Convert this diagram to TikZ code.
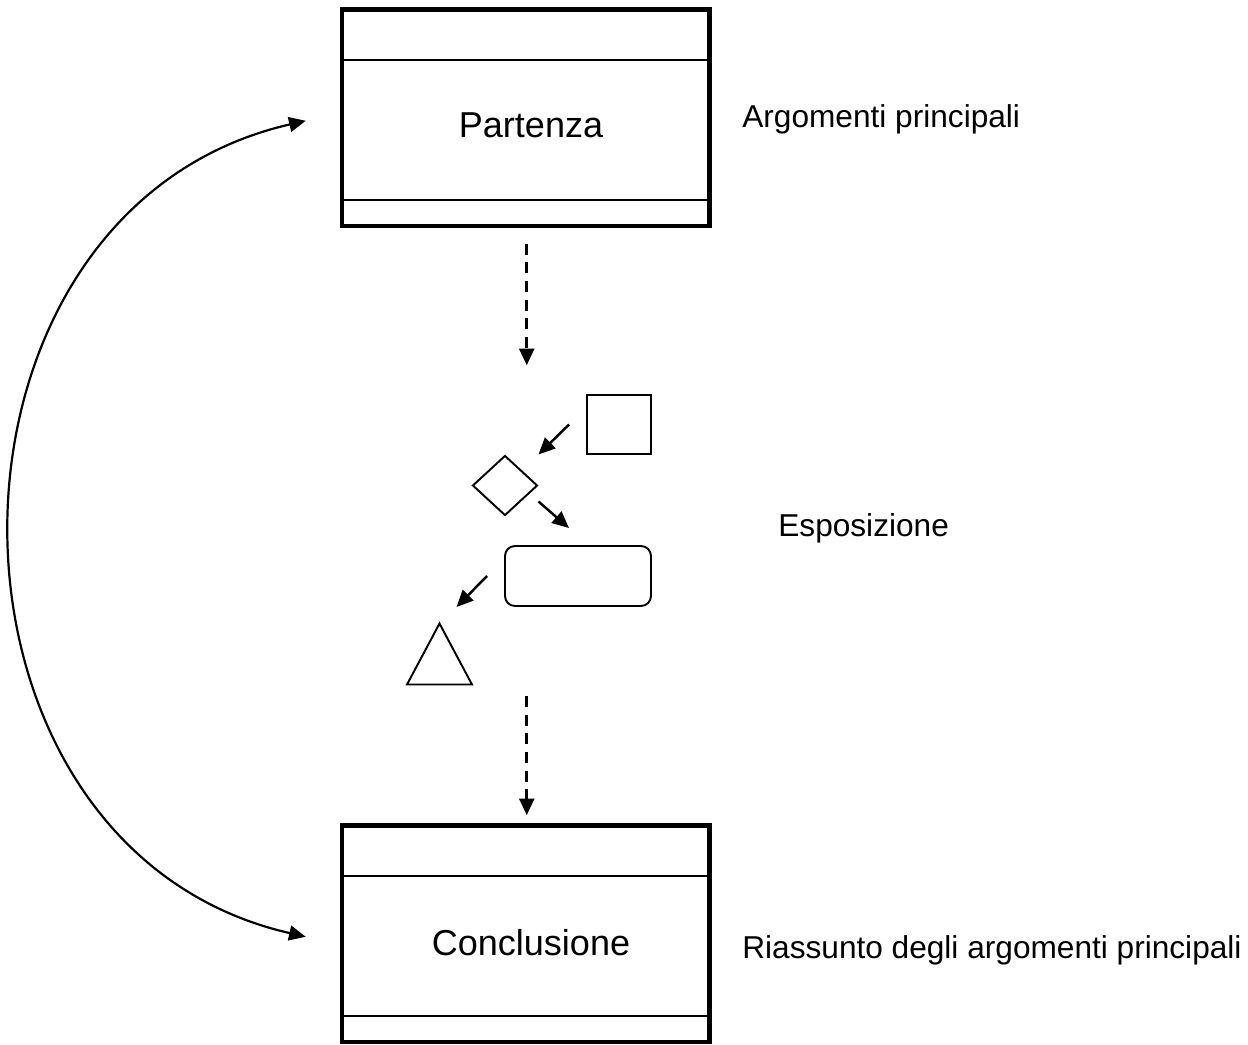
\documentclass[tikz,border=0pt]{standalone}
\usepackage{fontspec}
\setmainfont{Liberation Sans}
\usetikzlibrary{arrows.meta,positioning,shapes.geometric,calc}

\begin{document}
\begin{tikzpicture}[x=0.02cm,y=-0.02cm,
  frame/.style={draw,line width=2.6pt,minimum width=7.35cm,minimum height=4.33cm,inner sep=0pt},
  sep/.style={line width=0.9pt},
  big/.style={font=\fontsize{20.5}{24}\selectfont,inner sep=0pt,anchor=base},
  lbl/.style={font=\fontsize{18}{22}\selectfont,inner sep=0pt,anchor=base west},
  sh/.style={draw,line width=1.1pt,inner sep=0pt},
  ar/.style={->,line width=1.4pt},
  dsh/.style={->,line width=1.5pt,dash pattern=on 6.2pt off 4.4pt},
  >={Triangle[length=9.5pt,width=8.5pt]}]
\useasboundingbox (0,0) rectangle (1248,1045);
% boxes
\node[frame] (pa) at (525.75,117.75) {};
\node[frame] (co) at (525.75,933.75) {};
\draw[sep] ([yshift=-1.05cm]pa.north west) -- ([yshift=-1.05cm]pa.north east);
\draw[sep] ([yshift=0.57cm]pa.south west) -- ([yshift=0.57cm]pa.south east);
\draw[sep] ([yshift=-1.05cm]co.north west) -- ([yshift=-1.05cm]co.north east);
\draw[sep] ([yshift=0.57cm]co.south west) -- ([yshift=0.57cm]co.south east);
\node[big] (pat) at (531,137.5) {Partenza};
\node[big] (con) at (531,955) {Conclusione};
% small shapes
\node[sh,minimum width=1.28cm,minimum height=1.18cm] (sq) at (619,424.5) {};
\node[sh,diamond,minimum width=1.3cm,minimum height=1.2cm] (dm) at (505,485.5) {};
\node[sh,rounded corners=0.2cm,minimum width=2.92cm,minimum height=1.2cm] (rr) at (578,576) {};
\node[sh,isosceles triangle,isosceles triangle stretches,shape border rotate=90,
  minimum width=1.3cm,minimum height=1.22cm,anchor=apex] (tr) at (439.5,621) {};
\draw[ar] ([shift={(-17,0)}]sq.west) -- ([shift={(0,-31)}]dm.east);
\draw[ar] ([shift={(0,16)}]dm.east) -- ([shift={(-9,-17)}]rr.north);
\draw[ar] ([shift={(-17,0)}]rr.west) -- ([shift={(17,-14)}]tr.apex);
% dashed links
\draw[dsh] ([shift={(1,15.5)}]pa.south) -- ++(0,121.5);
\draw[dsh] ($(co.north)+(1,-127)$) -- ([shift={(1,-8)}]co.north);
% back link
\draw[<->,line width=1.25pt] ([shift={(-34,3)}]pa.west)
  .. controls (-87,211) and (-87,847) .. ([shift={(-34,3)}]co.west);
% side notes
\node[lbl] (arg) at (742,127) {Argomenti principali};
\node[lbl] (esp) at (778,536.5) {Esposizione};
\node[lbl] (ria) at (742,958) {Riassunto degli argomenti principali};
\end{tikzpicture}
\end{document}
